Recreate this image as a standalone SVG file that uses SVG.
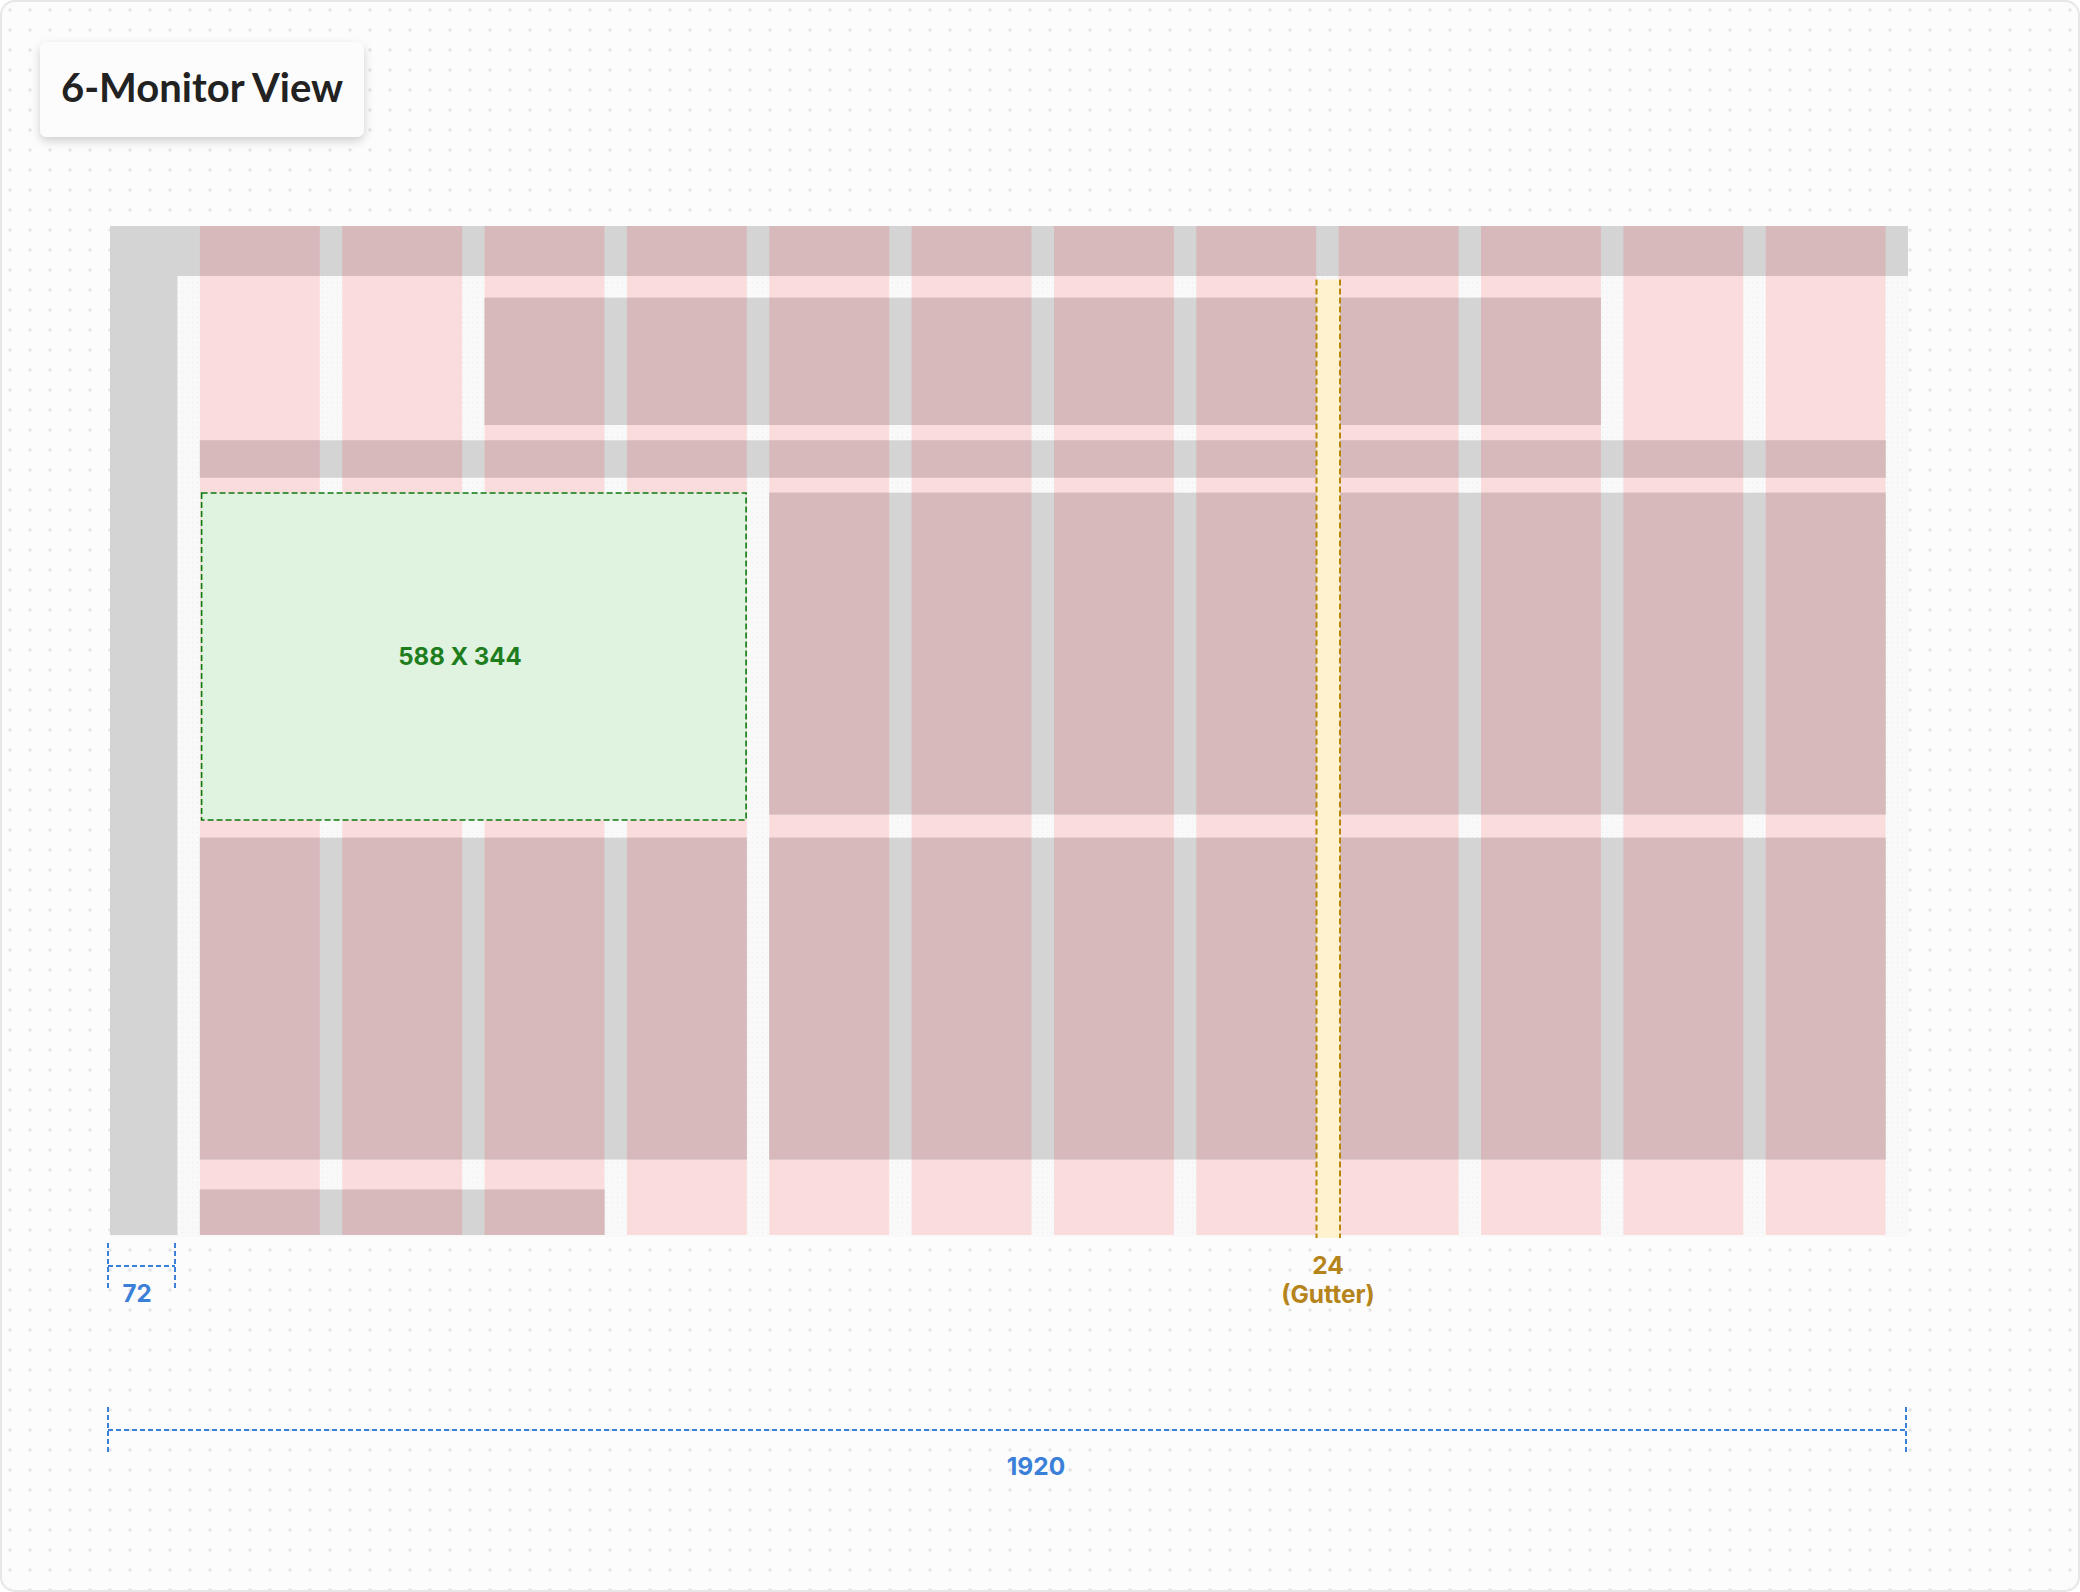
<svg xmlns="http://www.w3.org/2000/svg" width="2080" height="1592" viewBox="0 0 2080 1592">
<defs>
<pattern id="dots" x="0" y="0" width="20" height="20" patternUnits="userSpaceOnUse">
<circle cx="10" cy="10" r="1.8" fill="#e4e4e4"/>
</pattern>
<pattern id="fine" x="0" y="0" width="5" height="5" patternUnits="userSpaceOnUse">
<rect width="5" height="5" fill="#f9f9f9"/>
<circle cx="2.5" cy="2.5" r="0.6" fill="#ececec"/>
</pattern>
<filter id="shadow" x="-20%" y="-30%" width="140%" height="170%">
<feDropShadow dx="0" dy="4" stdDeviation="5" flood-color="#000" flood-opacity="0.18"/>
</filter>
<style>
.grey{fill:#d4d4d4}
.dk{fill:#d8b9bb}
.lt{fill:#fadcdd}
.dimb{stroke:#3a7fd8;stroke-width:2;stroke-dasharray:5 3;fill:none}
.dimy{stroke:#b8860b;stroke-width:2;stroke-dasharray:6 3;fill:none}
.t{font-family:Inter,"Liberation Sans",sans-serif;font-weight:700;text-anchor:middle}
</style>
</defs>
<rect x="1" y="1" width="2078" height="1590" rx="14" fill="#fcfcfc" stroke="#e6e6e6" stroke-width="2"/>
<rect x="2" y="2" width="2076" height="1588" rx="13" fill="url(#dots)"/>

<g id="title">
<rect x="40" y="42" width="324" height="95" rx="7" fill="#fcfcfc" filter="url(#shadow)"/>
<text x="61" y="102" font-family="Lato,'Noto Sans',sans-serif" font-weight="700" font-size="40" fill="#222">6-Monitor View</text>
</g>

<g id="frame">
<rect x="110" y="226" width="1798" height="1011" fill="url(#fine)"/>
<rect class="grey" x="110" y="226" width="67.4" height="1009"/>
<rect class="grey" x="110" y="226" width="1798" height="50"/>
</g>

<g id="columns">
<rect class="lt" x="199.9" y="276" width="119.9" height="959"/>
<rect class="lt" x="342.2" y="276" width="119.9" height="959"/>
<rect class="lt" x="484.6" y="276" width="119.9" height="959"/>
<rect class="lt" x="626.9" y="276" width="119.9" height="959"/>
<rect class="lt" x="769.3" y="276" width="119.9" height="959"/>
<rect class="lt" x="911.6" y="276" width="119.9" height="959"/>
<rect class="lt" x="1054.0" y="276" width="119.9" height="959"/>
<rect class="lt" x="1196.3" y="276" width="119.9" height="959"/>
<rect class="lt" x="1338.7" y="276" width="119.9" height="959"/>
<rect class="lt" x="1481.0" y="276" width="119.9" height="959"/>
<rect class="lt" x="1623.4" y="276" width="119.9" height="959"/>
<rect class="lt" x="1765.7" y="276" width="119.9" height="959"/>
</g>

<g id="topbar">
<rect class="dk" x="199.9" y="226" width="119.9" height="50"/>
<rect class="dk" x="342.2" y="226" width="119.9" height="50"/>
<rect class="dk" x="484.6" y="226" width="119.9" height="50"/>
<rect class="dk" x="626.9" y="226" width="119.9" height="50"/>
<rect class="dk" x="769.3" y="226" width="119.9" height="50"/>
<rect class="dk" x="911.6" y="226" width="119.9" height="50"/>
<rect class="dk" x="1054.0" y="226" width="119.9" height="50"/>
<rect class="dk" x="1196.3" y="226" width="119.9" height="50"/>
<rect class="dk" x="1338.7" y="226" width="119.9" height="50"/>
<rect class="dk" x="1481.0" y="226" width="119.9" height="50"/>
<rect class="dk" x="1623.4" y="226" width="119.9" height="50"/>
<rect class="dk" x="1765.7" y="226" width="119.9" height="50"/>
</g>

<g id="monitorA">
<rect class="grey" x="484.6" y="297.7" width="1116.3" height="127.3"/>
<rect class="dk" x="484.6" y="297.7" width="119.9" height="127.3"/>
<rect class="dk" x="626.9" y="297.7" width="119.9" height="127.3"/>
<rect class="dk" x="769.3" y="297.7" width="119.9" height="127.3"/>
<rect class="dk" x="911.6" y="297.7" width="119.9" height="127.3"/>
<rect class="dk" x="1054.0" y="297.7" width="119.9" height="127.3"/>
<rect class="dk" x="1196.3" y="297.7" width="119.9" height="127.3"/>
<rect class="dk" x="1338.7" y="297.7" width="119.9" height="127.3"/>
<rect class="dk" x="1481.0" y="297.7" width="119.9" height="127.3"/>
</g>

<g id="monitorB">
<rect class="grey" x="199.9" y="440.3" width="1685.7" height="37.4"/>
<rect class="dk" x="199.9" y="440.3" width="119.9" height="37.4"/>
<rect class="dk" x="342.2" y="440.3" width="119.9" height="37.4"/>
<rect class="dk" x="484.6" y="440.3" width="119.9" height="37.4"/>
<rect class="dk" x="626.9" y="440.3" width="119.9" height="37.4"/>
<rect class="dk" x="769.3" y="440.3" width="119.9" height="37.4"/>
<rect class="dk" x="911.6" y="440.3" width="119.9" height="37.4"/>
<rect class="dk" x="1054.0" y="440.3" width="119.9" height="37.4"/>
<rect class="dk" x="1196.3" y="440.3" width="119.9" height="37.4"/>
<rect class="dk" x="1338.7" y="440.3" width="119.9" height="37.4"/>
<rect class="dk" x="1481.0" y="440.3" width="119.9" height="37.4"/>
<rect class="dk" x="1623.4" y="440.3" width="119.9" height="37.4"/>
<rect class="dk" x="1765.7" y="440.3" width="119.9" height="37.4"/>
</g>

<g id="monitorC">
<rect class="grey" x="769.3" y="492.7" width="1116.3" height="321.8"/>
<rect class="dk" x="769.3" y="492.7" width="119.9" height="321.8"/>
<rect class="dk" x="911.6" y="492.7" width="119.9" height="321.8"/>
<rect class="dk" x="1054.0" y="492.7" width="119.9" height="321.8"/>
<rect class="dk" x="1196.3" y="492.7" width="119.9" height="321.8"/>
<rect class="dk" x="1338.7" y="492.7" width="119.9" height="321.8"/>
<rect class="dk" x="1481.0" y="492.7" width="119.9" height="321.8"/>
<rect class="dk" x="1623.4" y="492.7" width="119.9" height="321.8"/>
<rect class="dk" x="1765.7" y="492.7" width="119.9" height="321.8"/>
</g>

<g id="monitorD1">
<rect class="grey" x="199.9" y="837.7" width="546.9" height="321.8"/>
<rect class="dk" x="199.9" y="837.7" width="119.9" height="321.8"/>
<rect class="dk" x="342.2" y="837.7" width="119.9" height="321.8"/>
<rect class="dk" x="484.6" y="837.7" width="119.9" height="321.8"/>
<rect class="dk" x="626.9" y="837.7" width="119.9" height="321.8"/>
</g>

<g id="monitorD2">
<rect class="grey" x="769.3" y="837.7" width="1116.3" height="321.8"/>
<rect class="dk" x="769.3" y="837.7" width="119.9" height="321.8"/>
<rect class="dk" x="911.6" y="837.7" width="119.9" height="321.8"/>
<rect class="dk" x="1054.0" y="837.7" width="119.9" height="321.8"/>
<rect class="dk" x="1196.3" y="837.7" width="119.9" height="321.8"/>
<rect class="dk" x="1338.7" y="837.7" width="119.9" height="321.8"/>
<rect class="dk" x="1481.0" y="837.7" width="119.9" height="321.8"/>
<rect class="dk" x="1623.4" y="837.7" width="119.9" height="321.8"/>
<rect class="dk" x="1765.7" y="837.7" width="119.9" height="321.8"/>
</g>

<g id="monitorE">
<rect class="grey" x="199.9" y="1189.5" width="404.6" height="45.5"/>
<rect class="dk" x="199.9" y="1189.5" width="119.9" height="45.5"/>
<rect class="dk" x="342.2" y="1189.5" width="119.9" height="45.5"/>
<rect class="dk" x="484.6" y="1189.5" width="119.9" height="45.5"/>
</g>

<g id="selection">
<rect x="201.6" y="493" width="544.5" height="327" fill="#e0f2e0" stroke="#0c7a0c" stroke-width="1.6" stroke-dasharray="6 3"/>
<text class="t" x="460" y="665" font-size="24" fill="#1e7e1e">588 X 344</text>
</g>

<g id="gutter">
<rect x="1316.5" y="279.5" width="23.5" height="958.5" fill="#fff2cf"/>
<line class="dimy" x1="1316.5" y1="279.5" x2="1316.5" y2="1238"/>
<line class="dimy" x1="1340" y1="279.5" x2="1340" y2="1238"/>
<text class="t" x="1328" y="1274" font-size="24.5" fill="#b5841b">24</text>
<text class="t" x="1328" y="1303" font-size="24.5" fill="#b5841b">(Gutter)</text>
</g>

<g id="connectors">
<line class="dimb" x1="108" y1="1243" x2="108" y2="1288"/>
<line class="dimb" x1="175" y1="1243" x2="175" y2="1288"/>
<line class="dimb" x1="108" y1="1266" x2="175" y2="1266"/>
<line class="dimb" x1="108" y1="1407" x2="108" y2="1452"/>
<line class="dimb" x1="1906" y1="1407" x2="1906" y2="1452"/>
<line class="dimb" x1="108" y1="1430" x2="1906" y2="1430"/>
</g>
<text class="t" x="137" y="1302" font-size="24" fill="#3a7fd8">72</text>
<text class="t" x="1036" y="1475" font-size="24.5" fill="#3a7fd8">1920</text>
</svg>
